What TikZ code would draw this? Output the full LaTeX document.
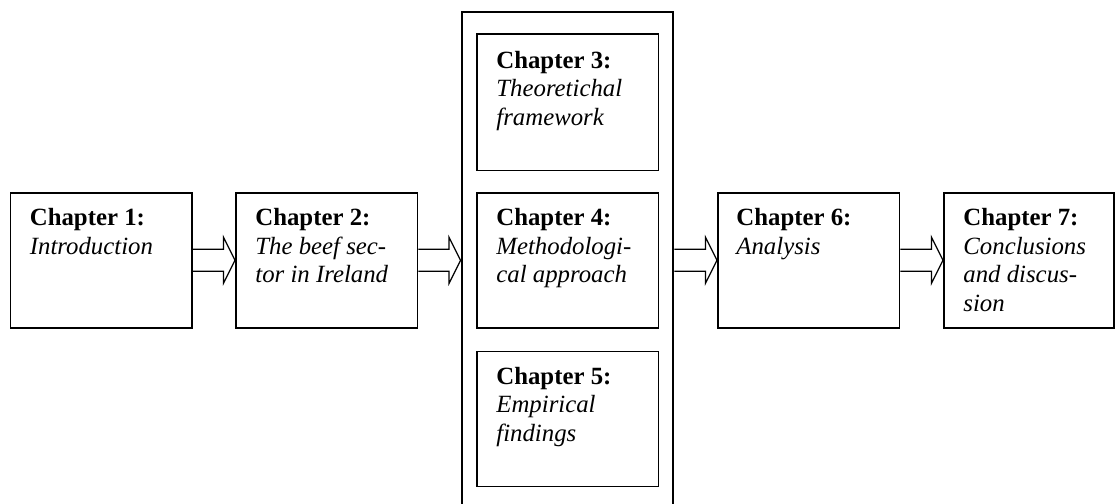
\documentclass[tikz,border=0pt]{standalone}
\usepackage{fontspec}
\setmainfont{Liberation Serif}
\usetikzlibrary{calc}
\newcommand\chaptext[2]{{\fontsize{12}{13.8}\selectfont\begin{tabular}[t]{@{}l@{}}\textbf{#1}\\#2\end{tabular}}}
\begin{document}
\begin{tikzpicture}[x=0.484pt,y=-0.484pt,
  chapbox/.style={draw, line width=0.75pt, inner sep=0pt, anchor=north west,
    minimum width=88pt, minimum height=65.4pt},
  holder/.style={draw, line width=0.75pt, inner sep=0pt, anchor=north west,
    minimum width=102.3pt, minimum height=260pt},
  chaptxt/.style={inner sep=0pt, anchor=base west},
  blockarrow/.style={draw, line width=0.6pt, line join=miter}]
\useasboundingbox (0,0) rectangle (1115,504);
\clip (0,0) rectangle (1115,504);
% container
\node[holder] (mid) at (461,11) {};
% boxes
\node[chapbox] (b1) at (9.5,192) {};
\node[chapbox] (b2) at (235,192) {};
\node[chapbox, minimum height=66pt] (b3) at (476,33.3) {};
\node[chapbox] (b4) at (476,192) {};
\node[chapbox] (b5) at (476,350.5) {};
\node[chapbox] (b6) at (717,192) {};
\node[chapbox, minimum width=82.5pt] (b7) at (943,192) {};
% texts
\node[chaptxt] (t1) at ($(b1.north west)+(20,33.5)$) {\chaptext{Chapter 1:}{\textit{Introduction}}};
\node[chaptxt] (t2) at ($(b2.north west)+(20,33.5)$) {\chaptext{Chapter 2:}{\textit{The beef sec-}\\\textit{tor in Ireland}}};
\node[chaptxt] (t3) at ($(b3.north west)+(20,35)$) {\chaptext{Chapter 3:}{\textit{Theoretichal}\\\textit{framework}}};
\node[chaptxt] (t4) at ($(b4.north west)+(20,33.5)$) {\chaptext{Chapter 4:}{\textit{Methodologi-}\\\textit{cal approach}}};
\node[chaptxt] (t5) at ($(b5.north west)+(20,33.5)$) {\chaptext{Chapter 5:}{\textit{Empirical}\\\textit{findings}}};
\node[chaptxt] (t6) at ($(b6.north west)+(19,33.5)$) {\chaptext{Chapter 6:}{\textit{Analysis}}};
\node[chaptxt] (t7) at ($(b7.north west)+(20,33.5)$) {\chaptext{Chapter 7:}{\textit{Conclusions}\\\textit{and discus-}\\\textit{sion}}};
% block arrows
\newcommand\blockarr[2]{%
  \draw[blockarrow] ($(#1.east)+(0,-11)$) -- ($(#2.west)+(-11.5,-11)$)
    -- ($(#2.west)+(-11.5,-23)$) -- (#2.west)
    -- ($(#2.west)+(-11.5,23)$) -- ($(#2.west)+(-11.5,11)$)
    -- ($(#1.east)+(0,11)$);}
\coordinate (midL) at (mid.west |- b1.east);
\coordinate (midR) at (mid.east |- b1.east);
\node[inner sep=0pt, minimum size=0pt] (mL) at (midL) {};
\node[inner sep=0pt, minimum size=0pt] (mR) at (midR) {};
\blockarr{b1}{b2}
\blockarr{b2}{mL}
\blockarr{mR}{b6}
\blockarr{b6}{b7}
\end{tikzpicture}
\end{document}
